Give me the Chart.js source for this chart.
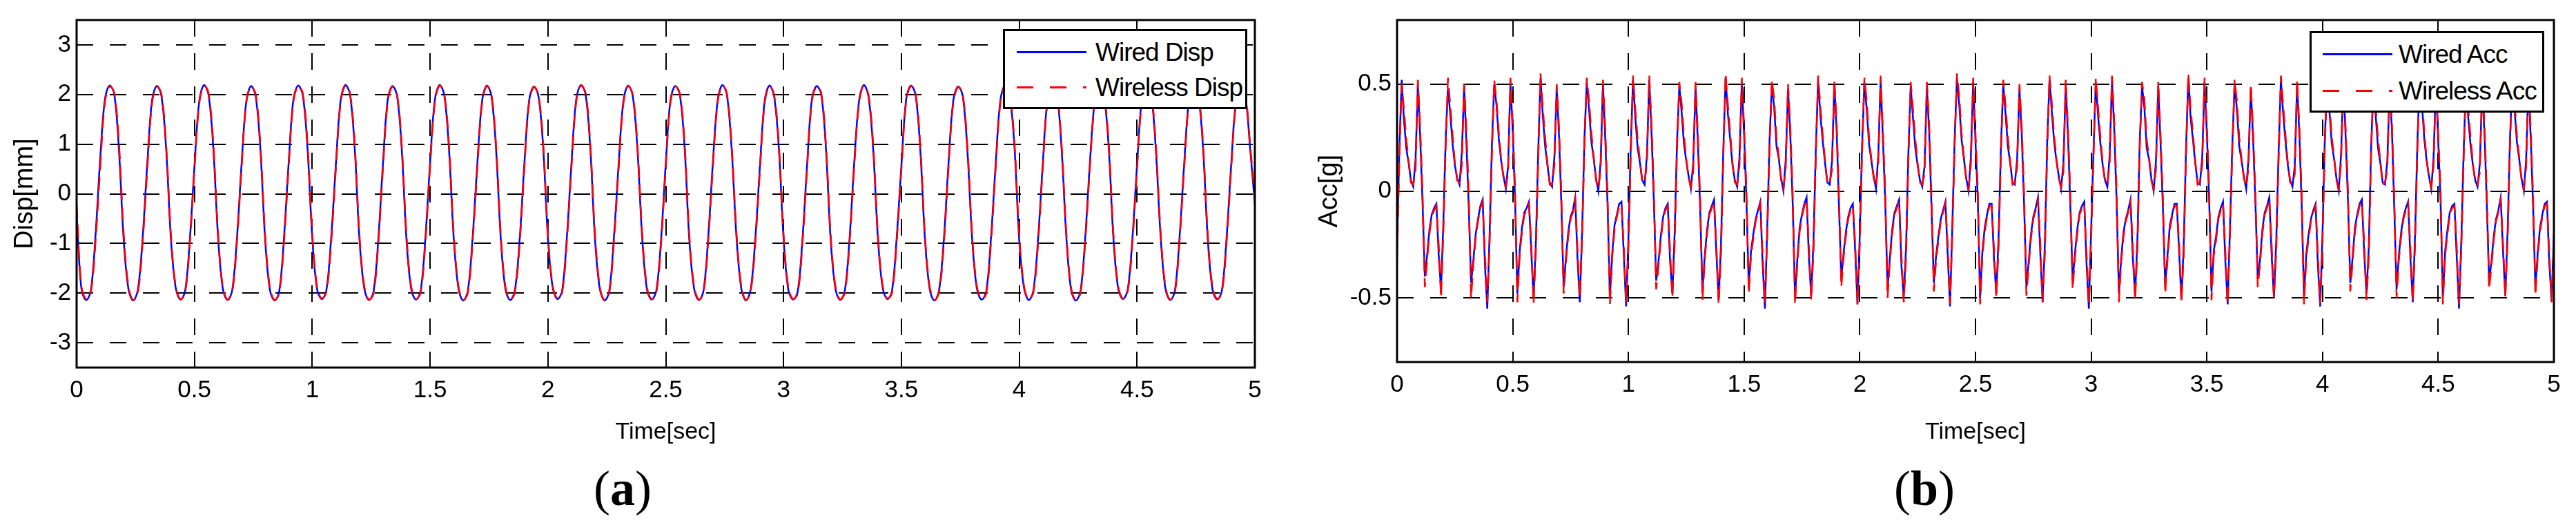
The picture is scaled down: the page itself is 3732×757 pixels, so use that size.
<!DOCTYPE html>
<html><head><meta charset="utf-8">
<script src="https://cdn.jsdelivr.net/npm/chart.js@4"></script>
<style>
body{margin:0;background:#fff;width:3732px;height:757px;position:relative;overflow:hidden;font-family:"Liberation Sans",Arial,sans-serif}
.cv{position:absolute;top:0}
.lab{position:absolute;font-family:"Liberation Serif","Times New Roman",serif;font-size:72px;transform:translate(-50%,-50%)}
.lg{position:absolute;border:3px solid #000;background:#fff;box-sizing:border-box}
.row{position:absolute;left:0;height:50px;font-size:37px;letter-spacing:-1px;line-height:50px;white-space:nowrap}
.ln{position:absolute;top:23px;width:101px;height:3px}
.tx{position:absolute}
.dash{background:repeating-linear-gradient(90deg,#ff0000 0 24px,transparent 24px 48px)}
</style></head><body>
<div class="cv" style="left:0;width:1850px;height:650px"><canvas id="c1"></canvas></div>
<div class="cv" style="left:1890px;width:1842px;height:650px"><canvas id="c2"></canvas></div>
<div class="lab" style="left:902px;top:707px">(<b>a</b>)</div>
<div class="lab" style="left:2788px;top:707px">(<b>b</b>)</div>
<div class="lg" style="left:1453px;top:42px;width:354px;height:116px">
 <div class="row" style="top:6px"><div class="ln" style="left:17px;background:#0000ff"></div><div class="tx" style="left:131px">Wired Disp</div></div>
 <div class="row" style="top:57px"><div class="ln dash" style="left:17px"></div><div class="tx" style="left:131px">Wireless Disp</div></div>
</div>
<div class="lg" style="left:3346px;top:45px;width:340px;height:118px">
 <div class="row" style="top:6px"><div class="ln" style="left:16px;background:#0000ff"></div><div class="tx" style="left:126px">Wired Acc</div></div>
 <div class="row" style="top:59px"><div class="ln dash" style="left:16px"></div><div class="tx" style="left:126px">Wireless Acc</div></div>
</div>
<script>
// sample intervals (s)
const dispStep = 0.02;
const accStep = 0.01;
const xTicks = [0,0.5,1,1.5,2,2.5,3,3.5,4,4.5,5];
const dispTicks = [-3,-2,-1,0,1,2,3];
const accTicks = [-0.5,0,0.5];

const dispWired = [
-0.40,-1.90,-2.14,-1.96,-0.85,0.70,1.90,2.18,2.00,0.85,
-0.95,-1.92,-2.15,-1.93,-0.90,0.62,1.88,2.17,1.97,0.90,
-0.90,-1.88,-2.13,-1.97,-0.95,0.55,1.85,2.19,1.99,0.92,
-0.85,-1.90,-2.14,-1.95,-0.92,0.60,1.86,2.17,1.96,0.88,
-0.92,-1.93,-2.15,-1.96,-0.88,0.64,1.90,2.18,1.98,0.90,
-0.88,-1.91,-2.12,-1.94,-0.90,0.58,1.87,2.19,2.00,0.93,
-0.90,-1.89,-2.14,-1.97,-0.93,0.61,1.89,2.17,1.97,0.87,
-0.94,-1.92,-2.13,-1.95,-0.89,0.63,1.88,2.19,1.99,0.91,
-0.87,-1.90,-2.15,-1.96,-0.91,0.57,1.85,2.18,1.98,0.89,
-0.91,-1.93,-2.14,-1.94,-0.92,0.60,1.87,2.16,1.96,0.92,
-0.89,-1.88,-2.12,-1.96,-0.90,0.62,1.90,2.19,2.00,0.90,
-0.93,-1.91,-2.15,-1.97,-0.88,0.59,1.86,2.18,1.97,0.88,
-0.88,-1.92,-2.13,-1.95,-0.93,0.61,1.89,2.17,1.99,0.93,
-0.92,-1.90,-2.14,-1.96,-0.89,0.63,1.87,2.19,1.98,0.87,
-0.86,-1.89,-2.15,-1.94,-0.91,0.58,1.88,2.18,1.96,0.91,
-0.90,-1.93,-2.13,-1.97,-0.92,0.60,1.90,2.17,2.00,0.89,
-0.94,-1.91,-2.14,-1.95,-0.90,0.64,1.86,2.19,1.97,0.92,
-0.87,-1.88,-2.12,-1.96,-0.88,0.57,1.89,2.18,1.99,0.90,
-0.91,-1.92,-2.15,-1.94,-0.93,0.62,1.87,2.16,1.98,0.88,
-0.89,-1.90,-2.13,-1.97,-0.90,0.59,1.88,2.19,1.96,0.93,
-0.93,-1.89,-2.14,-1.95,-0.91,0.61,1.90,2.17,2.00,0.89,
-0.88,-1.93,-2.15,-1.96,-0.89,0.63,1.85,2.18,1.97,0.91,
-0.92,-1.91,-2.12,-1.94,-0.92,0.58,1.89,2.19,1.99,0.87,
-0.86,-1.90,-2.14,-1.97,-0.90,0.60,1.87,2.17,1.98,0.92,
-0.90,-1.92,-2.13,-1.95,-0.88,0.62,1.88,2.18,1.96,0.90,
-0.20];

const dispWireless = [
-0.20,-1.85,-2.12,-2.00,-0.98,0.52,1.84,2.16,2.03,1.00,
-0.82,-1.87,-2.14,-1.99,-1.00,0.50,1.82,2.17,2.01,0.98,
-0.80,-1.85,-2.12,-2.01,-1.02,0.48,1.80,2.18,2.02,1.02,
-0.78,-1.86,-2.13,-1.99,-0.99,0.52,1.83,2.16,2.00,0.97,
-0.83,-1.88,-2.14,-2.00,-0.97,0.55,1.85,2.17,2.02,1.00,
-0.79,-1.86,-2.11,-1.98,-1.00,0.49,1.82,2.18,2.03,1.01,
-0.81,-1.84,-2.13,-2.01,-1.01,0.51,1.84,2.16,2.00,0.96,
-0.84,-1.87,-2.12,-1.99,-0.98,0.54,1.83,2.18,2.02,1.00,
-0.78,-1.85,-2.14,-2.00,-1.00,0.48,1.80,2.17,2.01,0.98,
-0.82,-1.88,-2.13,-1.98,-1.01,0.51,1.82,2.15,1.99,1.01,
-0.80,-1.84,-2.11,-2.00,-0.99,0.53,1.85,2.18,2.03,0.99,
-0.83,-1.86,-2.14,-2.01,-0.97,0.50,1.81,2.17,2.00,0.97,
-0.79,-1.87,-2.12,-1.99,-1.02,0.52,1.84,2.16,2.02,1.02,
-0.82,-1.85,-2.13,-2.00,-0.98,0.54,1.82,2.18,2.01,0.96,
-0.77,-1.84,-2.14,-1.98,-1.00,0.49,1.83,2.17,1.99,1.00,
-0.81,-1.88,-2.12,-2.01,-1.01,0.51,1.85,2.16,2.03,0.98,
-0.84,-1.86,-2.13,-1.99,-0.99,0.55,1.81,2.18,2.00,1.01,
-0.78,-1.84,-2.11,-2.00,-0.97,0.48,1.84,2.17,2.02,0.99,
-0.82,-1.87,-2.14,-1.98,-1.02,0.53,1.82,2.15,2.01,0.97,
-0.80,-1.85,-2.12,-2.01,-0.99,0.50,1.83,2.18,1.99,1.02,
-0.83,-1.84,-2.13,-1.99,-1.00,0.52,1.85,2.16,2.03,0.98,
-0.79,-1.88,-2.14,-2.00,-0.98,0.54,1.80,2.17,2.00,1.00,
-0.82,-1.86,-2.11,-1.98,-1.01,0.49,1.84,2.18,2.02,0.96,
-0.77,-1.85,-2.13,-2.01,-0.99,0.51,1.82,2.16,2.01,1.01,
-0.81,-1.87,-2.12,-1.99,-0.97,0.53,1.83,2.17,1.99,0.99,
-0.10];

const accWired = [
-0.26,0.20,0.52,0.33,0.20,0.13,0.05,0.02,0.15,0.50,0.25,-0.05,-0.40,-0.30,-0.18,-0.11,-0.08,-0.06,-0.30,-0.46,
-0.15,0.24,0.48,0.36,0.22,0.12,0.06,0.03,0.18,0.49,0.22,-0.08,-0.43,-0.32,-0.20,-0.13,-0.07,-0.04,-0.35,-0.55,
-0.20,0.22,0.50,0.40,0.24,0.14,0.07,0.01,0.12,0.51,0.28,-0.04,-0.48,-0.28,-0.17,-0.10,-0.08,-0.05,-0.28,-0.50,
-0.24,0.18,0.53,0.35,0.21,0.12,0.04,0.02,0.16,0.48,0.26,-0.06,-0.45,-0.31,-0.19,-0.12,-0.09,-0.03,-0.32,-0.52,
-0.18,0.25,0.51,0.38,0.23,0.15,0.06,0.00,0.14,0.50,0.24,-0.07,-0.50,-0.29,-0.16,-0.11,-0.06,-0.05,-0.30,-0.54,
-0.22,0.21,0.52,0.34,0.20,0.13,0.05,0.03,0.17,0.52,0.27,-0.05,-0.42,-0.33,-0.21,-0.12,-0.08,-0.06,-0.33,-0.48,
-0.19,0.23,0.49,0.37,0.22,0.14,0.07,0.01,0.13,0.49,0.23,-0.08,-0.47,-0.30,-0.18,-0.10,-0.07,-0.04,-0.29,-0.51,
-0.25,0.19,0.53,0.36,0.24,0.12,0.05,0.02,0.16,0.51,0.26,-0.04,-0.44,-0.28,-0.20,-0.13,-0.09,-0.05,-0.34,-0.55,
-0.17,0.24,0.50,0.39,0.21,0.15,0.06,0.00,0.15,0.48,0.25,-0.06,-0.49,-0.32,-0.17,-0.11,-0.06,-0.03,-0.31,-0.49,
-0.23,0.20,0.52,0.35,0.23,0.13,0.04,0.03,0.14,0.50,0.28,-0.07,-0.41,-0.29,-0.19,-0.12,-0.08,-0.06,-0.28,-0.53,
-0.20,0.22,0.51,0.38,0.22,0.14,0.07,0.01,0.17,0.52,0.24,-0.05,-0.46,-0.31,-0.18,-0.10,-0.07,-0.04,-0.35,-0.50,
-0.26,0.18,0.49,0.34,0.20,0.12,0.05,0.02,0.12,0.49,0.27,-0.08,-0.43,-0.30,-0.21,-0.13,-0.09,-0.05,-0.30,-0.54,
-0.16,0.25,0.53,0.40,0.24,0.15,0.06,0.00,0.16,0.51,0.23,-0.04,-0.50,-0.28,-0.17,-0.11,-0.06,-0.06,-0.32,-0.48,
-0.21,0.21,0.50,0.36,0.21,0.13,0.04,0.03,0.15,0.48,0.26,-0.06,-0.45,-0.33,-0.20,-0.12,-0.08,-0.03,-0.29,-0.52,
-0.24,0.23,0.52,0.37,0.23,0.14,0.07,0.01,0.13,0.50,0.25,-0.07,-0.42,-0.29,-0.18,-0.10,-0.07,-0.05,-0.34,-0.55,
-0.18,0.19,0.51,0.35,0.22,0.12,0.05,0.02,0.17,0.52,0.28,-0.05,-0.48,-0.31,-0.19,-0.13,-0.09,-0.04,-0.31,-0.49,
-0.22,0.24,0.49,0.39,0.20,0.15,0.06,0.00,0.14,0.49,0.22,-0.08,-0.44,-0.30,-0.16,-0.11,-0.06,-0.06,-0.28,-0.51,
-0.25,0.20,0.53,0.34,0.24,0.13,0.04,0.03,0.16,0.51,0.27,-0.04,-0.47,-0.28,-0.21,-0.12,-0.08,-0.05,-0.33,-0.53,
-0.17,0.22,0.50,0.38,0.21,0.14,0.07,0.01,0.15,0.48,0.24,-0.06,-0.41,-0.32,-0.18,-0.10,-0.07,-0.03,-0.30,-0.50,
-0.23,0.18,0.52,0.36,0.23,0.12,0.05,0.02,0.12,0.50,0.26,-0.07,-0.49,-0.29,-0.20,-0.13,-0.09,-0.06,-0.35,-0.54,
-0.19,0.25,0.51,0.37,0.22,0.15,0.06,0.00,0.17,0.52,0.25,-0.05,-0.43,-0.31,-0.17,-0.11,-0.06,-0.04,-0.29,-0.48,
-0.26,0.21,0.49,0.35,0.20,0.13,0.04,0.03,0.14,0.49,0.28,-0.08,-0.46,-0.30,-0.19,-0.12,-0.08,-0.05,-0.32,-0.52,
-0.20,0.23,0.53,0.40,0.24,0.14,0.07,0.01,0.16,0.51,0.23,-0.04,-0.50,-0.28,-0.18,-0.10,-0.07,-0.06,-0.31,-0.55,
-0.22,0.19,0.50,0.34,0.21,0.12,0.05,0.02,0.13,0.48,0.27,-0.06,-0.42,-0.33,-0.21,-0.13,-0.09,-0.03,-0.28,-0.49,
-0.18,0.24,0.52,0.38,0.23,0.15,0.06,0.00,0.15,0.50,0.24,-0.07,-0.45,-0.29,-0.17,-0.11,-0.06,-0.05,-0.34,-0.51,
-0.20];

const accWireless = [
-0.32,0.15,0.50,0.38,0.24,0.14,0.04,0.03,0.10,0.52,0.30,0.00,-0.45,-0.32,-0.20,-0.12,-0.09,-0.07,-0.25,-0.50,
-0.20,0.20,0.53,0.40,0.26,0.13,0.05,0.04,0.12,0.50,0.28,-0.02,-0.50,-0.34,-0.22,-0.14,-0.08,-0.05,-0.30,-0.52,
-0.25,0.17,0.52,0.42,0.27,0.15,0.06,0.02,0.08,0.53,0.32,0.01,-0.52,-0.30,-0.19,-0.11,-0.09,-0.06,-0.24,-0.53,
-0.28,0.14,0.55,0.39,0.25,0.13,0.03,0.03,0.12,0.50,0.30,-0.01,-0.48,-0.33,-0.21,-0.13,-0.10,-0.04,-0.27,-0.50,
-0.22,0.21,0.53,0.42,0.27,0.16,0.05,0.01,0.10,0.52,0.29,-0.03,-0.53,-0.31,-0.18,-0.12,-0.07,-0.06,-0.26,-0.52,
-0.27,0.16,0.54,0.38,0.24,0.14,0.04,0.04,0.13,0.54,0.31,0.00,-0.46,-0.35,-0.23,-0.13,-0.09,-0.07,-0.28,-0.50,
-0.24,0.19,0.51,0.41,0.26,0.15,0.06,0.02,0.09,0.51,0.27,-0.03,-0.51,-0.32,-0.20,-0.11,-0.08,-0.05,-0.25,-0.53,
-0.30,0.15,0.55,0.40,0.27,0.13,0.04,0.03,0.12,0.53,0.30,0.01,-0.48,-0.30,-0.22,-0.14,-0.10,-0.06,-0.29,-0.52,
-0.21,0.20,0.52,0.43,0.25,0.16,0.05,0.01,0.11,0.50,0.29,-0.01,-0.53,-0.34,-0.19,-0.12,-0.07,-0.04,-0.26,-0.51,
-0.28,0.16,0.54,0.39,0.26,0.14,0.03,0.04,0.10,0.52,0.32,-0.02,-0.45,-0.31,-0.21,-0.13,-0.09,-0.07,-0.24,-0.53,
-0.25,0.18,0.53,0.42,0.25,0.15,0.06,0.02,0.13,0.54,0.28,0.00,-0.50,-0.33,-0.20,-0.11,-0.08,-0.05,-0.30,-0.52,
-0.31,0.14,0.51,0.38,0.24,0.13,0.04,0.03,0.08,0.51,0.31,-0.03,-0.47,-0.32,-0.23,-0.14,-0.10,-0.06,-0.25,-0.53,
-0.20,0.21,0.55,0.44,0.27,0.16,0.05,0.01,0.12,0.53,0.27,0.01,-0.53,-0.30,-0.19,-0.12,-0.07,-0.07,-0.27,-0.50,
-0.26,0.17,0.52,0.40,0.25,0.14,0.03,0.04,0.11,0.50,0.30,-0.01,-0.49,-0.35,-0.22,-0.13,-0.09,-0.04,-0.24,-0.52,
-0.29,0.19,0.54,0.41,0.26,0.15,0.06,0.02,0.09,0.52,0.29,-0.02,-0.46,-0.31,-0.20,-0.11,-0.08,-0.06,-0.29,-0.53,
-0.22,0.15,0.53,0.39,0.25,0.13,0.04,0.03,0.13,0.54,0.32,0.00,-0.52,-0.33,-0.21,-0.14,-0.10,-0.05,-0.26,-0.51,
-0.27,0.20,0.51,0.43,0.24,0.16,0.05,0.01,0.10,0.51,0.26,-0.03,-0.48,-0.32,-0.18,-0.12,-0.07,-0.07,-0.24,-0.52,
-0.30,0.16,0.55,0.38,0.27,0.14,0.03,0.04,0.12,0.53,0.31,0.01,-0.51,-0.30,-0.23,-0.13,-0.09,-0.06,-0.28,-0.53,
-0.21,0.18,0.52,0.42,0.25,0.15,0.06,0.02,0.11,0.50,0.28,-0.01,-0.45,-0.34,-0.20,-0.11,-0.08,-0.04,-0.25,-0.50,
-0.28,0.14,0.54,0.40,0.26,0.13,0.04,0.03,0.08,0.52,0.30,-0.02,-0.53,-0.31,-0.22,-0.14,-0.10,-0.07,-0.30,-0.53,
-0.24,0.21,0.53,0.41,0.25,0.16,0.05,0.01,0.13,0.54,0.29,0.00,-0.47,-0.33,-0.19,-0.12,-0.07,-0.05,-0.24,-0.51,
-0.31,0.17,0.51,0.39,0.24,0.14,0.03,0.04,0.10,0.51,0.32,-0.03,-0.50,-0.32,-0.21,-0.13,-0.09,-0.06,-0.27,-0.52,
-0.25,0.19,0.55,0.44,0.27,0.15,0.06,0.02,0.12,0.53,0.27,0.01,-0.53,-0.30,-0.20,-0.11,-0.08,-0.07,-0.26,-0.53,
-0.27,0.15,0.52,0.38,0.25,0.13,0.04,0.03,0.09,0.50,0.31,-0.01,-0.46,-0.35,-0.23,-0.14,-0.10,-0.04,-0.24,-0.50,
-0.23,0.20,0.54,0.42,0.26,0.16,0.05,0.01,0.11,0.52,0.28,-0.02,-0.49,-0.31,-0.19,-0.12,-0.07,-0.06,-0.29,-0.52,
-0.25];

const toXY = (arr, step) => arr.map((v,i)=>({x: +(i*step).toFixed(3), y: v}));

const frame = {id:'frame', afterDatasetsDraw(ch){const a=ch.chartArea,c=ch.ctx;c.save();c.strokeStyle='#000';c.lineWidth=3;c.setLineDash([]);c.strokeRect(a.left,a.top,a.right-a.left,a.bottom-a.top);c.restore();}};

function make(id, wired, wireless, step, yMin, yMax, yTicks, yTitle, yW, topPad, plotBottom, tension){
  const FONT = '"Liberation Sans", Arial, sans-serif';
  const grid = {color:'#000', lineWidth:2, tickLength:0, drawTicks:false};
  return new Chart(document.getElementById(id), {
    type:'line',
    data:{datasets:[
      {label:'Wired', data:toXY(wired,step), borderColor:'#0000ff', borderWidth:2.5, pointRadius:0, tension:tension, order:1},
      {label:'Wireless', data:toXY(wireless,step), borderColor:'#ff0000', borderWidth:2.5, borderDash:[20,10], pointRadius:0, tension:tension, order:0}
    ]},
    options:{
      responsive:true, maintainAspectRatio:false, animation:false,
      layout:{padding:{top:topPad, right:32, left:0, bottom:0}},
      plugins:{legend:{display:false}, tooltip:{enabled:false}},
      scales:{
        x:{type:'linear', min:0, max:5,
           afterBuildTicks:s=>{s.ticks=xTicks.map(v=>({value:v}));},
           afterFit:s=>{s.height=650-plotBottom;},
           ticks:{color:'#000', font:{family:FONT,size:35}, padding:12, maxRotation:0, callback:v=>String(v)},
           grid:{...grid}, border:{display:false, dash:[24,24]},
           title:{display:true, text:'Time[sec]', color:'#000', font:{family:FONT,size:34}, padding:{top:8}}},
        y:{min:yMin, max:yMax,
           afterBuildTicks:s=>{s.ticks=yTicks.map(v=>({value:v}));},
           afterFit:s=>{s.width=yW;},
           ticks:{color:'#000', font:{family:FONT,size:35}, padding:8, callback:v=>String(v)},
           grid:{...grid}, border:{display:false, dash:[24,24]},
           title:{display:true, text:yTitle, color:'#000', font:{family:FONT,size:38}, padding:{top:14,bottom:0}}}
      }
    },
    plugins:[frame]
  });
}
make('c1', dispWired, dispWireless, dispStep, -3.5, 3.5, dispTicks, 'Disp[mm]', 111, 22, 532, 0.35);
make('c2', accWired, accWireless, accStep, -0.8, 0.8, accTicks, 'Acc[g]', 134, 25, 524, 0);
</script>
</body></html>
